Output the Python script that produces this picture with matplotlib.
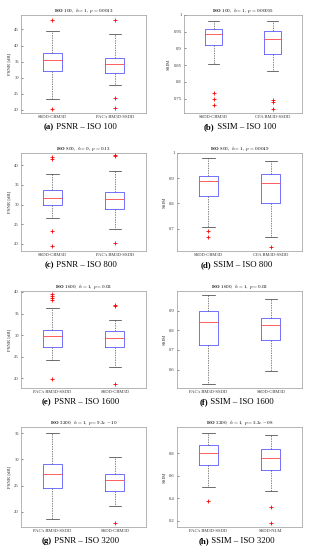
import matplotlib
matplotlib.use('Agg')
import matplotlib.pyplot as plt

plt.rcParams['font.family'] = ['Liberation Serif', 'DejaVu Serif']
plt.rcParams['mathtext.fontset'] = 'cm'

# box statistics: (whislo, q1, med, q3, whishi, fliers)
psnr_100 = [(23.4, 32.0, 35.4, 37.7, 44.6, [47.8, 20.4]),
            (27.6, 31.4, 34.1, 36.2, 43.5, [48.0, 23.6, 20.7])]
ssim_100 = [(0.853, 0.911, 0.942, 0.957, 0.982, [0.768, 0.748, 0.732]),
            (0.834, 0.883, 0.929, 0.951, 0.982, [0.745, 0.741, 0.720])]
psnr_800 = [(26.6, 29.8, 31.7, 33.7, 37.7, [42.0, 41.7, 23.2, 19.5]),
            (23.8, 28.8, 31.3, 33.3, 38.6, [42.6, 42.3, 20.2])]
ssim_800 = [(0.708, 0.828, 0.887, 0.908, 0.980, [0.692, 0.668]),
            (0.668, 0.803, 0.881, 0.917, 0.967, [0.627])]
psnr_1600 = [(24.2, 27.2, 29.8, 31.2, 36.3, [39.5, 39.1, 38.5, 38.2, 19.9]),
             (22.7, 27.2, 29.4, 30.9, 33.5, [37.0, 36.7, 18.8])]
ssim_1600 = [(0.527, 0.726, 0.844, 0.900, 0.982, []),
             (0.595, 0.752, 0.827, 0.863, 0.958, [])]
psnr_3200 = [(18.6, 24.5, 27.2, 29.2, 35.0, []),
             (21.2, 24.0, 26.0, 27.2, 30.5, [17.9])]
ssim_3200 = [(0.503, 0.695, 0.797, 0.875, 0.980, [0.380]),
             (0.461, 0.653, 0.752, 0.833, 0.956, [0.326, 0.185])]

labels_a = ['SSDD-CBM3D', "PAC's BM3D-SSDD"]
labels_b = ['SSDD-CBM3D', 'CFA BM3D-SSDD']
labels_e = ["PAC's BM3D-SSDD", 'SSDD-CBM3D']
labels_h = ["PAC's BM3D-SSDD", 'SSDD-NLM']

titles = [r'$\mathbf{ISO\ 100},\ h=1,\ p=0.0013$',
          r'$\mathbf{ISO\ 100},\ h=1,\ p=0.00055$',
          r'$\mathbf{ISO\ 800},\ h=0,\ p=0.13$',
          r'$\mathbf{ISO\ 800},\ h=1,\ p=0.0049$',
          r'$\mathbf{ISO\ 1600},\ h=1,\ p=0.02$',
          r'$\mathbf{ISO\ 1600},\ h=1,\ p=0.02$',
          r'$\mathbf{ISO\ 3200},\ h=1,\ p=9.3e-10$',
          r'$\mathbf{ISO\ 3200},\ h=1,\ p=3.3e-08$']
captions = [('(a)', 'PSNR – ISO 100'), ('(b)', 'SSIM – ISO 100'),
            ('(c)', 'PSNR – ISO 800'), ('(d)', 'SSIM – ISO 800'),
            ('(e)', 'PSNR – ISO 1600'), ('(f)', 'SSIM – ISO 1600'),
            ('(g)', 'PSNR – ISO 3200'), ('(h)', 'SSIM – ISO 3200')]

panels = [
    (psnr_100, labels_a, 'PSNR [dB]', (19.0, 49.5), [20, 25, 30, 35, 40, 45]),
    (ssim_100, labels_b, 'SSIM', (0.707, 1.0), [0.75, 0.8, 0.85, 0.9, 0.95, 1.0]),
    (psnr_800, labels_a, 'PSNR [dB]', (18.2, 43.1), [20, 25, 30, 35, 40]),
    (ssim_800, labels_b, 'SSIM', (0.611, 1.0), [0.7, 0.8, 0.9, 1.0]),
    (psnr_1600, labels_e, 'PSNR [dB]', (17.8, 40.2), [20, 25, 30, 35, 40]),
    (ssim_1600, labels_e, 'SSIM', (0.506, 1.0), [0.6, 0.7, 0.8, 0.9]),
    (psnr_3200, labels_e, 'PSNR [dB]', (17.1, 36.2), [20, 25, 30, 35]),
    (ssim_3200, labels_h, 'SSIM', (0.146, 1.03), [0.2, 0.4, 0.6, 0.8]),
]

fig = plt.figure(figsize=(3.12, 5.5), dpi=100)

# axes boxes in pixels: (left, top, right, bottom)
row_y = [(15, 113), (153, 251), (291, 388), (427, 527)]
col_x = [(21, 146), (177, 302)]

cap_items = []
for i, (stats, labels, ylab, ylim, yticks) in enumerate(panels):
    r, c = divmod(i, 2)
    x0, x1 = col_x[c]
    if i == 1:
        x0 = 184
    y0, y1 = row_y[r]
    ax = fig.add_axes([x0 / 312, 1 - y1 / 550, (x1 - x0) / 312, (y1 - y0) / 550])

    bxp_stats = []
    for lab, (lo, q1, med, q3, hi, fl) in zip(labels, stats):
        bxp_stats.append(dict(label=lab, whislo=lo, q1=q1, med=med, q3=q3,
                              whishi=hi, fliers=fl))
    ax.bxp(bxp_stats, positions=[1, 2], widths=0.3, capwidths=0.2,
           boxprops=dict(color='#5a5aff', linewidth=0.6),
           medianprops=dict(color='#ff4444', linewidth=0.6),
           whiskerprops=dict(color='#555555', linewidth=0.5, linestyle=(0, (2, 1.5))),
           capprops=dict(color='#333333', linewidth=0.5),
           flierprops=dict(marker='+', markeredgecolor='red', markersize=2.5,
                           markeredgewidth=0.6, linestyle='none'))

    ax.set_xlim(0.5, 2.5)
    ax.set_ylim(*ylim)
    ax.set_yticks(yticks)
    ax.set_yticklabels([f'{v:g}' for v in yticks])
    ax.tick_params(axis='both', direction='in', length=1.5, width=0.4,
                   labelsize=3.3, pad=1.5, colors='#333333')
    ax.tick_params(axis='x', length=0)
    ax.set_ylabel(ylab, fontsize=3.5, labelpad=2, color='#333333')
    for sp in ax.spines.values():
        sp.set_linewidth(0.5)
        sp.set_color('#999999')
    ax.set_title(titles[i], fontsize=3.6, pad=2.5)

    # caption under each panel, centred as a whole
    cx = ((x0 + x1) / 2 - 3) / 312
    cy = 1 - (y1 + 14) / 550
    t1 = fig.text(cx, cy, captions[i][0], fontsize=6.3, fontweight='bold',
                  ha='left', va='center')
    t2 = fig.text(cx, cy, ' ' + captions[i][1], fontsize=6.3, ha='left', va='center')
    cap_items.append((cx, t1, t2))

fig.canvas.draw()
rend = fig.canvas.get_renderer()
W = fig.bbox.width
for cx, t1, t2 in cap_items:
    w1 = t1.get_window_extent(rend).width / W
    w2 = t2.get_window_extent(rend).width / W
    left = cx - (w1 + w2) / 2
    t1.set_x(left)
    t2.set_x(left + w1)

fig.savefig('out.png', dpi=100)
